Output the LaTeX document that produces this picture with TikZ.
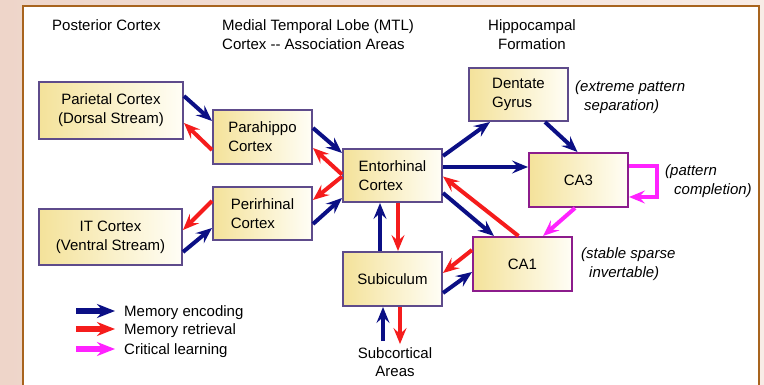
\documentclass[tikz,border=0pt]{standalone}
\usepackage{fontspec}
\setmainfont{Liberation Sans}
\usetikzlibrary{arrows.meta,calc}
\definecolor{encc}{HTML}{0B0F85}
\definecolor{retc}{HTML}{F51C1C}
\definecolor{critc}{HTML}{FF22FF}
\definecolor{boxline}{HTML}{5E4B8B}
\definecolor{hipline}{HTML}{8C1C8C}
\definecolor{boxl}{HTML}{F4E29A}
\definecolor{boxr}{HTML}{FFFEF6}
\definecolor{bgl}{HTML}{EED5C9}
\definecolor{bgr}{HTML}{F8ECE6}
\definecolor{panelline}{HTML}{A8641E}
\begin{document}
\begin{tikzpicture}[x=1pt,y=1pt,
  txt/.style={font=\fontsize{15}{18.5}\selectfont, inner sep=0pt},
  itxt/.style={font=\fontsize{15}{19}\selectfont\itshape, inner sep=0pt, align=left},
  box/.style={draw=boxline, line width=2pt, left color=boxl, right color=boxr,
    align=center, font=\fontsize{15}{19}\selectfont, inner sep=0pt},
  lbox/.style={box, align=left},
  hbox/.style={box, draw=hipline},
  con/.style={line width=4pt, -{Stealth[length=16pt,width=13pt,inset=6pt]}},
  encar/.style={con, draw=encc, fill=encc},
  retar/.style={con, draw=retc, fill=retc},
  critar/.style={con, draw=critc, fill=critc},
  legar/.style={line width=5.5pt, -{Stealth[length=18pt,width=14pt,inset=6pt]}}
]
\useasboundingbox (0,0) rectangle (764,-385);
\clip (0,0) rectangle (764,-385);
% background and panel
\shade[left color=bgl, right color=bgr] (0,0) rectangle (764,-385);
\fill[white] (23,-6) rectangle (759,-395);
\draw[panelline, line width=2pt] (23,-395) -- (23,-6) -- (759,-6) -- (759,-395);

% headings
\node[txt, anchor=west] (hpost) at (52,-25) {Posterior Cortex};
\node[txt, anchor=west, align=left] (hmtl) at (222,-34.5) {Medial Temporal Lobe (MTL)\\Cortex -{}- Association Areas};
\node[txt, align=center] (hhip) at (532,-34.5) {Hippocampal\\Formation};

% boxes
\node[box, minimum width=144pt, minimum height=57pt] (par) at (111,-110.5) {Parietal Cortex\\(Dorsal Stream)};
\node[box, minimum width=143pt, minimum height=56pt] (itc) at (110.5,-237) {IT Cortex\\(Ventral Stream)};
\node[lbox, minimum width=99pt, minimum height=54pt] (php) at (262.5,-137) {Parahippo\\Cortex};
\node[lbox, minimum width=99pt, minimum height=53pt] (peri) at (262.5,-214) {Perirhinal\\Cortex};
\node[lbox, minimum width=99pt, minimum height=53pt] (ent) at (392.5,-175.5) {Entorhinal\\Cortex};
\node[box, minimum width=99pt, minimum height=54pt] (sub) at (392.5,-279) {Subiculum};
\node[lbox, minimum width=99pt, minimum height=53pt] (dg) at (518.5,-94.5) {Dentate\\Gyrus};
\node[hbox, minimum width=99pt, minimum height=54pt] (ca3) at (578.5,-180) {CA3};
\node[hbox, minimum width=99pt, minimum height=54pt] (ca1) at (522.5,-264) {CA1};

% side labels
\node[itxt, anchor=west] (ldg) at (575,-97.5) {(extreme pattern\\\hspace*{9pt}separation)};
\node[itxt, anchor=west] (lca3) at (665,-181) {(pattern\\\hspace*{9pt}completion)};
\node[itxt, anchor=west] (lca1) at (581,-264) {(stable sparse\\\hspace*{8pt}invertable)};
\node[txt, align=center, inner sep=3pt] (subc) at (395,-362) {Subcortical\\Areas};

% encoding (blue)
\draw[encar] ([yshift=14.5pt]par.east) -- ([yshift=16pt]php.west);
\draw[encar] ([yshift=9pt]php.east) -- ([yshift=22.5pt]ent.west);
\draw[encar] ([yshift=-15pt]itc.east) -- ([yshift=-14pt]peri.west);
\draw[encar] ([yshift=-10pt]peri.east) -- ([yshift=-22.5pt]ent.west);
\draw[encar] ([yshift=19.5pt]ent.east) -- ([xshift=-28.5pt]dg.south);
\draw[encar] ([xshift=26.5pt]dg.south) -- ([xshift=-1pt]ca3.north);
\draw[encar] ([yshift=8.5pt]ent.east) -- ([yshift=13pt]ca3.west);
\draw[encar] ([yshift=-17.5pt]ent.east) -- ([xshift=-28.5pt]ca1.north);
\draw[encar] ([xshift=-12.5pt]sub.north) -- ([xshift=-12.5pt]ent.south);
\draw[encar] ([yshift=-14pt]sub.east) -- ([yshift=-8pt]ca1.west);
\draw[encar] ([xshift=-12pt,yshift=3pt]subc.north) -- ([xshift=-9.5pt]sub.south);

% retrieval (red)
\draw[retar] ([yshift=-13pt]php.west) -- ([yshift=-12.5pt]par.east);
\draw[retar] ([yshift=1pt]ent.west) -- ([yshift=-11pt]php.east);
\draw[retar] ([yshift=-1pt]ent.west) -- ([yshift=14pt]peri.east);
\draw[retar] ([yshift=13pt]peri.west) -- ([yshift=7pt]itc.east);
\draw[retar] ([xshift=-4pt]ca1.north) -- ([yshift=-1pt]ent.east);
\draw[retar] ([xshift=5.5pt]ent.south) -- ([xshift=5.5pt]sub.north);
\draw[retar] ([yshift=14pt]ca1.west) -- ([yshift=6pt]sub.east);
\draw[retar] ([xshift=7.5pt]sub.south) -- ([xshift=5pt]subc.north);

% critical learning (magenta)
\draw[critar] ([xshift=-3.5pt]ca3.south) -- ([xshift=20.5pt]ca1.north);
\draw[critc, line width=4pt, -{Stealth[length=16pt,width=13pt,inset=6pt]}]
  ([yshift=14pt]ca3.east) -- ++(28,0) |- ([yshift=-17pt]ca3.east);

% legend
\coordinate (l1a) at (76,-311); \coordinate (l1b) at (115,-311);
\coordinate (l2a) at (76,-329); \coordinate (l2b) at (115,-329);
\coordinate (l3a) at (76,-349); \coordinate (l3b) at (115,-349);
\draw[legar, draw=encc, fill=encc] (l1a) -- (l1b);
\draw[legar, draw=retc, fill=retc] (l2a) -- (l2b);
\draw[legar, draw=critc, fill=critc] (l3a) -- (l3b);
\node[txt, anchor=base west] (t1) at (124,-316.5) {Memory encoding};
\node[txt, anchor=base west] (t2) at (124,-334.5) {Memory retrieval};
\node[txt, anchor=base west] (t3) at (124,-354.5) {Critical learning};
\end{tikzpicture}
\end{document}
